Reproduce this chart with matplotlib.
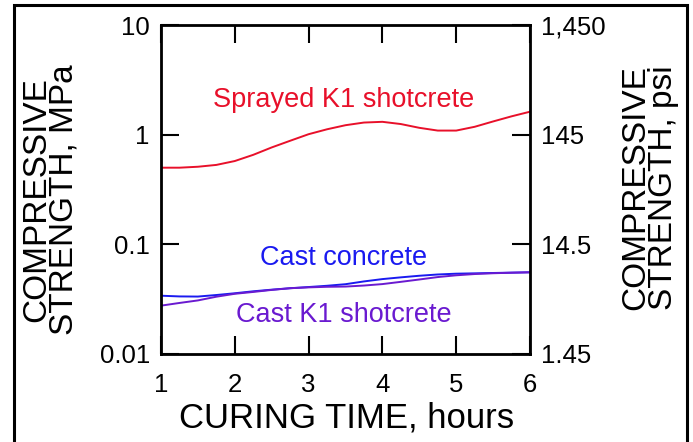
import matplotlib.pyplot as plt
from matplotlib.patches import Rectangle

plt.rcParams['font.family'] = ['Liberation Sans', 'DejaVu Sans']

# curing time, hours
hours = [1.0, 1.25, 1.5, 1.75, 2.0, 2.25, 2.5, 2.75, 3.0, 3.25, 3.5,
         3.75, 4.0, 4.25, 4.5, 4.75, 5.0, 5.25, 5.5, 5.75, 6.0]
# compressive strength, MPa
sprayed_k1 = [0.50, 0.50, 0.51, 0.53, 0.575, 0.655, 0.765, 0.88, 1.01, 1.12, 1.22,
              1.29, 1.31, 1.25, 1.155, 1.09, 1.09, 1.18, 1.32, 1.47, 1.62]
cast_concrete = [0.0340, 0.0335, 0.0334, 0.0345, 0.0358, 0.0373, 0.0386, 0.0398, 0.0408, 0.0419, 0.0433,
                 0.0459, 0.0482, 0.0500, 0.0517, 0.0531, 0.0540, 0.0544, 0.0548, 0.0552, 0.0556]
cast_k1 = [0.0276, 0.0292, 0.0308, 0.0333, 0.0354, 0.0368, 0.0384, 0.0398, 0.0405, 0.0410, 0.0412,
           0.0421, 0.0434, 0.0455, 0.0478, 0.0503, 0.0522, 0.0536, 0.0545, 0.0551, 0.0556]

x_ticks = [1, 2, 3, 4, 5, 6]
mpa_ticks = [0.01, 0.1, 1, 10]
mpa_labels = ['0.01', '0.1', '1', '10']
psi_labels = ['1.45', '14.5', '145', '1,450']

red = '#e8102a'
blue = '#1a1af0'
purple = '#6a1ad0'

fig = plt.figure(figsize=(6.93, 4.42), dpi=100)
ax = fig.add_axes([0.2323, 0.1991, 0.5325, 0.7443])

ax.plot(hours, sprayed_k1, color=red, lw=1.4)
ax.plot(hours, cast_concrete, color=blue, lw=1.4)
ax.plot(hours, cast_k1, color=purple, lw=1.4)

ax.set_yscale('log')
ax.set_xlim(1, 6)
ax.set_ylim(0.01, 10)
ax.set_xticks(x_ticks)
ax.set_yticks(mpa_ticks)
ax.set_yticklabels(mpa_labels)
ax.minorticks_off()
ax.tick_params(axis='both', direction='in', length=13, width=1.5, labelsize=18.5, top=True)
ax.tick_params(axis='x', pad=14)
ax.tick_params(axis='y', pad=8)
for s in ax.spines.values():
    s.set_linewidth(2)

ax2 = ax.twinx()
ax2.set_yscale('log')
ax2.set_ylim(0.01, 10)
ax2.set_yticks(mpa_ticks)
ax2.set_yticklabels(psi_labels)
ax2.minorticks_off()
ax2.tick_params(axis='y', direction='in', length=13, width=1.5, labelsize=18.5, pad=8)

ax.text(3.48, 1.785, 'Sprayed K1 shotcrete', color=red, fontsize=19.5, ha='center', va='baseline')
ax.text(3.48, 0.0648, 'Cast concrete', color=blue, fontsize=19.5, ha='center', va='baseline')
ax.text(3.48, 0.0196, 'Cast K1 shotcrete', color=purple, fontsize=19.5, ha='center', va='baseline')

ax.set_xlabel('CURING TIME, hours', fontsize=25)
ax.xaxis.set_label_coords(0.503, -0.145)
ax.set_ylabel('COMPRESSIVE\nSTRENGTH, MPa', fontsize=24, linespacing=0.85)
ax.yaxis.set_label_coords(-0.22, 0.47)
ax2.set_ylabel('COMPRESSIVE\nSTRENGTH, psi', fontsize=24, linespacing=0.85)
ax2.yaxis.set_label_coords(1.245, 0.505)

# outer frame
fig.patches.append(Rectangle((14 / 693, -0.05), 673 / 693, 1.05 - 5 / 442,
                             transform=fig.transFigure, fill=False, lw=2.2, ec='black'))

fig.savefig('out.png', dpi=100)
